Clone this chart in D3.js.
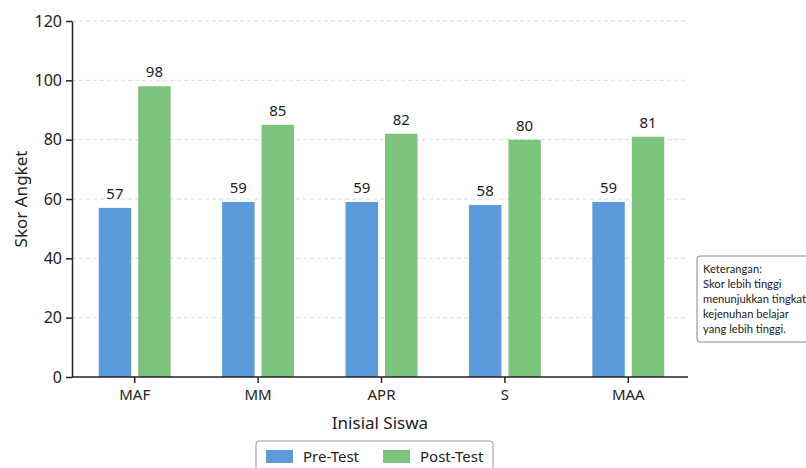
<!DOCTYPE html>
<html>
<head>
<meta charset="utf-8">
<script src="https://cdn.jsdelivr.net/npm/d3@7"></script>
<style>
  body { margin: 0; background: #fff; }
  text { font-family: "Noto Sans", "Open Sans", sans-serif; fill: #222; }
</style>
</head>
<body>
<div id="chart"></div>
<script>
var categories = ["MAF", "MM", "APR", "S", "MAA"];
var seriesNames = ["Pre-Test", "Post-Test"];
var preTest = [57, 59, 59, 58, 59];
var postTest = [98, 85, 82, 80, 81];
var yTicks = [0, 20, 40, 60, 80, 100, 120];
var noteLines = ["Keterangan:", "Skor lebih tinggi", "menunjukkan tingkat", "kejenuhan belajar", "yang lebih tinggi."];

var width = 806, height = 468;
var mLeft = 72, mRight = 688, mTop = 21, mBottom = 377;

var colors = d3.scaleOrdinal().domain(seriesNames).range(["#5b9bdb", "#7cc47b"]);

var svg = d3.select("#chart")
            .append("svg")
            .attr("width", width)
            .attr("height", height);

var x = d3.scaleBand().domain(categories).range([mLeft + 1, mRight + 2])
          .paddingInner(0.417).paddingOuter(0.2085);
var x1 = d3.scaleBand().domain(seriesNames).range([0, x.bandwidth()]).paddingInner(0.177);
var y = d3.scaleLinear().domain([0, 120]).range([mBottom, mTop]);

// grid
svg.append("g")
   .selectAll("line")
   .data(yTicks.filter(d => d > 0))
   .enter().append("line")
   .attr("x1", mLeft).attr("x2", mRight)
   .attr("y1", d => y(d)).attr("y2", d => y(d))
   .attr("stroke", "#dcdcdc")
   .attr("stroke-dasharray", "4,3");

var rows = categories.map((c, i) => ({cat: c, vals: [
    {s: seriesNames[0], v: preTest[i]},
    {s: seriesNames[1], v: postTest[i]}
]}));

var groups = svg.selectAll(".grp")
                .data(rows)
                .enter().append("g")
                .attr("transform", d => "translate(" + x(d.cat) + ",0)");

groups.selectAll("rect")
      .data(d => d.vals)
      .enter().append("rect")
      .attr("x", d => x1(d.s))
      .attr("width", x1.bandwidth())
      .attr("y", d => y(d.v))
      .attr("height", d => y(0) - y(d.v))
      .attr("fill", d => colors(d.s));

groups.selectAll(".lbl")
      .data(d => d.vals)
      .enter().append("text")
      .attr("x", d => x1(d.s) + x1.bandwidth() / 2)
      .attr("y", d => y(d.v) - 9)
      .attr("text-anchor", "middle")
      .style("font-size", "15px")
      .text(d => d.v);

// axes
var yAxis = svg.append("g")
   .attr("transform", "translate(" + mLeft + ",0)")
   .call(d3.axisLeft(y).tickValues(yTicks).tickSize(6).tickPadding(4).tickSizeOuter(0));
yAxis.selectAll("text").style("font-size", "16px").style("font-family", "Noto Sans, sans-serif").attr("fill", "#222");
yAxis.selectAll("line, path").attr("stroke", "#222").attr("stroke-width", 1.5);

var xAxis = svg.append("g")
   .attr("transform", "translate(0," + mBottom + ")")
   .call(d3.axisBottom(x).tickSize(6).tickPadding(6).tickSizeOuter(0));
xAxis.select(".domain").attr("d", "M" + mLeft + ",0H" + mRight);
xAxis.selectAll("text").style("font-size", "15px").style("font-family", "Noto Sans, sans-serif").attr("fill", "#222");
xAxis.selectAll("line, path").attr("stroke", "#222").attr("stroke-width", 1.5);

svg.append("text")
   .attr("transform", "translate(27," + ((mTop + mBottom) / 2) + ") rotate(-90)")
   .attr("text-anchor", "middle")
   .style("font-size", "17px")
   .text("Skor Angket");

svg.append("text")
   .attr("x", (mLeft + mRight) / 2)
   .attr("y", 429)
   .attr("text-anchor", "middle")
   .style("font-size", "17px")
   .text("Inisial Siswa");

// legend
var legend = svg.append("g").attr("transform", "translate(256,441)");
legend.append("rect")
      .attr("width", 237).attr("height", 34).attr("rx", 3)
      .attr("fill", "#fff").attr("stroke", "#999");
var items = legend.selectAll(".item")
      .data(seriesNames)
      .enter().append("g")
      .attr("transform", (d, i) => "translate(" + (10 + i * 117) + ",9)");
items.append("rect").attr("width", 27).attr("height", 13).attr("fill", d => colors(d));
items.append("text").attr("x", 37).attr("y", 12).style("font-size", "15px").text(d => d);

// note box
var note = svg.append("g").attr("transform", "translate(697,256)");
note.append("rect")
    .attr("width", 130).attr("height", 86).attr("rx", 3)
    .attr("fill", "#fff").attr("stroke", "#888");
note.selectAll("text")
    .data(noteLines)
    .enter().append("text")
    .attr("x", 6)
    .attr("y", (d, i) => 17 + i * 15)
    .style("font-family", "Lato, sans-serif")
    .style("font-size", "11.2px")
    .text(d => d);
</script>
</body>
</html>
